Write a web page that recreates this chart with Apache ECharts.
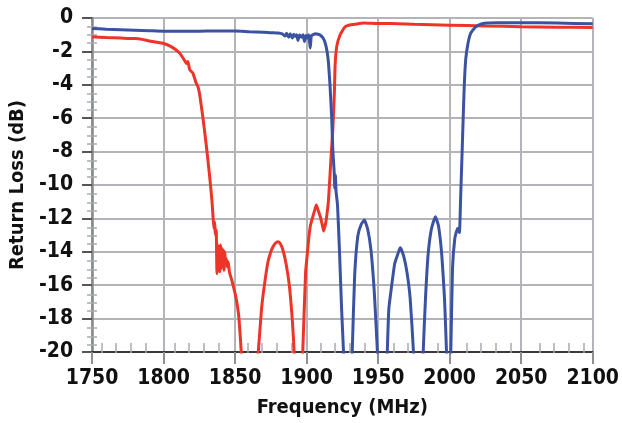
<!DOCTYPE html>
<html>
<head>
<meta charset="utf-8">
<script src="https://cdn.jsdelivr.net/npm/echarts@6/dist/echarts.min.js"></script>
<style>
  html, body { margin: 0; padding: 0; background: #fff; }
  #chart { width: 622px; height: 423px; }
</style>
</head>
<body>
<div id="chart"></div>
<script>
// Axis ranges and ticks
var xMin = 1750, xMax = 2100, xStep = 50;
var yMin = -20, yMax = 0, yStep = 2;

// Lower-band filter return loss (red)
var redFreq = [
  1750, 1760, 1770, 1780, 1785, 1790, 1795, 1800, 1805, 1809, 1811.4, 1814, 1816, 1817, 1818.3,
  1820.5, 1822.8, 1824, 1825.1, 1827.4, 1829.7, 1832, 1833.8, 1834.7,
  1835.2, 1835.7, 1836.2, 1836.8, 1837.3, 1837.8, 1838.3, 1838.8, 1839.3, 1839.8, 1840.3,
  1840.8, 1841.3, 1841.8, 1842.3, 1842.8, 1843.3, 1843.8, 1844.5, 1845.2, 1846, 1847,
  1848, 1850.3, 1852.5, 1854.3, 1857, 1862, 1866.2, 1868.5, 1870.8, 1873, 1875, 1876.5,
  1878, 1880, 1881.5, 1883.3, 1885.6, 1887.9, 1890.1, 1891.3, 1893, 1895.5, 1897.3,
  1899.3, 1900.4, 1901.5, 1902.7, 1904, 1905, 1906, 1906.8, 1908, 1909.6, 1911, 1911.9,
  1913, 1913.7, 1915.3, 1917.1, 1918.3, 1919.4, 1919.9, 1921, 1923.3, 1926.7, 1930,
  1933.6, 1940, 1950, 1960, 1975, 2000, 2025, 2050, 2075, 2100
];
var redLoss = [
  -1.13, -1.17, -1.2, -1.23, -1.28, -1.38, -1.45, -1.53, -1.7, -1.93, -2.12, -2.45, -2.72, -2.6, -3.1,
  -3.3, -3.9, -4.1, -4.5, -5.9, -7.5, -9.3, -10.9, -12.05,
  -12.6, -12.2, -13.0, -12.7, -15.3, -13.6, -15.1, -13.7, -15.2, -13.6, -15.0,
  -13.8, -14.9, -13.9, -15.1, -14.0, -14.8, -14.4, -14.9, -14.6, -15.2, -15.5,
  -15.8, -16.6, -17.8, -20, -24, -24, -20, -17.4, -15.8, -14.6, -14.0, -13.7,
  -13.5, -13.4, -13.5, -13.85, -14.7, -16.0, -18.2, -20, -24, -24, -20,
  -15.2, -14.2, -13.2, -12.4, -12.0, -11.7, -11.4, -11.2, -11.5, -11.9, -12.4, -12.75,
  -12.4, -12.1, -10.9, -8.3, -6.7, -4.5, -2.9, -1.73, -1.03, -0.54, -0.42,
  -0.38, -0.3, -0.33, -0.33, -0.38, -0.43, -0.48, -0.52, -0.55, -0.57
];

// Upper-band filter return loss (blue)
var blueFreq = [
  1750, 1760, 1770, 1780, 1790, 1800, 1810, 1820, 1830, 1840, 1850, 1860, 1870, 1875, 1880,
  1883, 1885, 1886, 1887.5, 1888.5, 1890, 1891, 1892, 1893, 1894, 1895, 1896.5, 1897.5,
  1898.5, 1899.5, 1900.5, 1901.5, 1902.5, 1903.3, 1904.5, 1906, 1908, 1909.6, 1911.5,
  1913, 1914.3, 1915.3, 1916.4, 1917.6, 1918.3, 1919.2, 1919.7, 1920.1, 1920.6, 1921.6,
  1923, 1924.5, 1925.8, 1928, 1930.5, 1931.9, 1933.6, 1935.8, 1938.2, 1940.4, 1942.7,
  1945, 1947.3, 1949.5, 1952, 1954.5, 1956.4, 1957.5, 1959.8, 1961.6, 1963.9, 1965.5,
  1967.8, 1970.1, 1972.4, 1974.7, 1977, 1979.5, 1981.5, 1983.1, 1984.9, 1987.2, 1990,
  1992.2, 1994.5, 1996.4, 1997.8, 1999.5, 2000.8, 2002, 2003.6, 2005.5, 2006.8, 2007.7,
  2008.9, 2010.1, 2011.2, 2012.8, 2014.6, 2018, 2022.6, 2033, 2050, 2075, 2100
];
var blueLoss = [
  -0.63, -0.67, -0.7, -0.73, -0.76, -0.79, -0.79, -0.8, -0.78, -0.78, -0.78, -0.82, -0.85, -0.88, -0.9,
  -0.95, -1.08, -0.92, -1.15, -0.95, -1.2, -0.98, -1.1, -1.0, -1.35, -1.02, -1.15, -1.0,
  -1.4, -1.05, -1.2, -1.0, -1.8, -1.05, -1.0, -0.95, -0.97, -1.03, -1.2,
  -1.5, -2.0, -2.7, -4.1, -6.1, -7.9, -9.1, -10.2, -9.4, -10.4, -11.2,
  -14, -17.5, -20, -26, -26, -20, -15.4, -13.05, -12.35, -12.1, -12.65,
  -13.9, -16.4, -20, -26, -26, -20, -17.4, -15.8, -14.7, -14.1, -13.75,
  -14.25, -15.2, -16.8, -20, -26, -26, -20, -16.8, -14.2, -12.65, -11.9,
  -12.45, -14.2, -16.8, -20, -25, -20, -15, -13.2, -12.6, -12.85, -10.7,
  -7.5, -4.3, -2.5, -1.53, -0.93, -0.54, -0.34, -0.28, -0.28, -0.3, -0.35
];

function pairs(xs, ys) {
  var out = [];
  for (var i = 0; i < xs.length; i++) out.push([xs[i], ys[i]]);
  return out;
}
function plain(v) { return String(v); }

var FONT = "'Liberation Sans Narrow', 'DejaVu Sans Condensed', sans-serif";
var gridColor = '#b3b4b8';
var minorColor = '#a9aaae';
var plotBox = { left: 87, right: 24, top: 18, bottom: 70, containLabel: false };

var chart = echarts.init(document.getElementById('chart'), null, { renderer: 'canvas' });
chart.setOption({
  animation: false,
  backgroundColor: '#ffffff',
  // grid 0 carries the data; grid 1 overlays it and only draws the inward minor ticks
  grid: [plotBox, plotBox],
  xAxis: [
    {
      gridIndex: 0, type: 'value', min: xMin, max: xMax, interval: xStep,
      name: 'Frequency (MHz)', nameLocation: 'middle', nameGap: 46,
      nameTextStyle: { fontFamily: FONT, fontWeight: 'bold', fontSize: 20, color: '#111' },
      axisLine: { show: true, onZero: false, lineStyle: { color: '#111', width: 1.5 } },
      axisTick: { show: true, length: 12, lineStyle: { color: '#8e8f93', width: 2 } },
      axisLabel: { fontFamily: FONT, fontWeight: 'bold', fontSize: 21, color: '#111', margin: 16, formatter: plain },
      splitLine: { show: true, lineStyle: { color: gridColor, width: 2 } }
    },
    {
      gridIndex: 1, type: 'value', min: xMin, max: xMax, interval: xStep, position: 'bottom',
      axisLine: { show: false, onZero: false }, axisLabel: { show: false }, splitLine: { show: false },
      axisTick: { show: false, inside: true },
      minorTick: { show: true, splitNumber: 5, length: 10, lineStyle: { color: minorColor, width: 1.5 } }
    }
  ],
  yAxis: [
    {
      gridIndex: 0, type: 'value', min: yMin, max: yMax, interval: yStep,
      name: 'Return Loss (dB)', nameLocation: 'middle', nameGap: 53,
      nameTextStyle: { fontFamily: FONT, fontWeight: 'bold', fontSize: 20, color: '#111' },
      axisLine: { show: true, onZero: false, lineStyle: { color: '#86878b', width: 2.5 } },
      axisTick: { show: true, length: 10, lineStyle: { color: '#555', width: 2 } },
      axisLabel: { fontFamily: FONT, fontWeight: 'bold', fontSize: 21, color: '#111', margin: 19, formatter: plain },
      splitLine: { show: true, lineStyle: { color: gridColor, width: 2 } }
    },
    {
      gridIndex: 1, type: 'value', min: yMin, max: yMax, interval: yStep, position: 'left',
      axisLine: { show: false, onZero: false }, axisLabel: { show: false }, splitLine: { show: false },
      axisTick: { show: false, inside: true },
      minorTick: { show: true, splitNumber: 4, length: 10, lineStyle: { color: minorColor, width: 1.5 } }
    }
  ],
  series: [
    {
      type: 'line', xAxisIndex: 0, yAxisIndex: 0, data: pairs(redFreq, redLoss),
      showSymbol: false, smooth: 0.15, clip: true,
      lineStyle: { color: '#ee3428', width: 3 }, z: 3
    },
    {
      type: 'line', xAxisIndex: 0, yAxisIndex: 0, data: pairs(blueFreq, blueLoss),
      showSymbol: false, smooth: 0.15, clip: true,
      lineStyle: { color: '#3b52a3', width: 3 }, z: 4
    }
  ]
});
</script>
</body>
</html>
